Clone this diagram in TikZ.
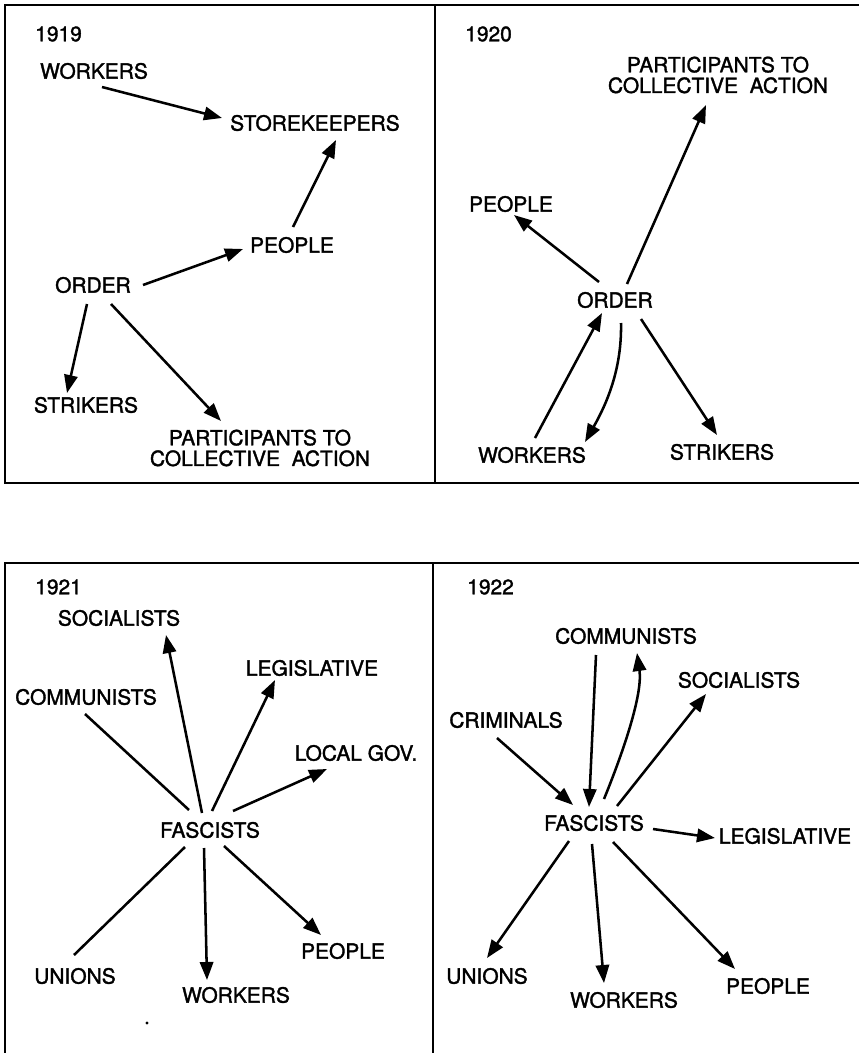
\documentclass[tikz,border=0pt]{standalone}
\usepackage{fontspec}
\setmainfont{TeX Gyre Heros}[FakeBold=1.6]
\usetikzlibrary{calc,arrows.meta}

\tikzset{
	lbl/.style={font=\fontsize{15.7}{15.5}\selectfont, inner sep=0pt, align=center},
	yearlbl/.style={lbl, anchor=west},
	arr/.style={line width=1.9pt, -{Triangle[length=13.5pt,width=10pt]}},
	tie/.style={line width=1.9pt},
	frame/.style={line width=1.5pt}
}

\begin{document}
\begin{tikzpicture}[x=0.75pt, y=-0.75pt]
			%%%%% START %%%%%
			\useasboundingbox (0,0) rectangle (858,1053);
			
			\draw[frame] (862,5) -- (5,5) -- (5,483) -- (862,483);
			\draw[frame] (435,5) -- (435,483);
			\draw[frame] (862,563) -- (5,563) -- (5,1060);
			\draw[frame] (433,563) -- (433,1060);
			
			%%%%% 1919 %%%%%
			\node[yearlbl] (yr19) at (35,34) {1919};
			\node[lbl] (wrk19) at (94,71) {WORKERS};
			\node[lbl] (sto19) at (315,123) {STOREKEEPERS};
			\node[lbl] (ppl19) at (292,245) {PEOPLE};
			\node[lbl] (ord19) at (93,285) {ORDER};
			\node[lbl] (str19) at (86,405) {STRIKERS};
			\node[lbl] (par19) at (260,448) {PARTICIPANTS TO\\COLLECTIVE\ \ ACTION};
			
			\draw[arr] ($(wrk19)+(8,16)$) -- ($(sto19)+(-93,-5)$);
			\draw[arr] ($(ppl19)+(1,-18)$) -- ($(sto19)+(21,17)$);
			\draw[arr] ($(ord19)+(50,0)$) -- ($(ppl19)+(-49,4)$);
			\draw[arr] ($(ord19)+(-6,19)$) -- ($(str19)+(-19,-12)$);
			\draw[arr] ($(ord19)+(18,19)$) -- ($(par19)+(-39,-27)$);
			
			%%%%% 1920 %%%%%
			\node[yearlbl] (yr20) at (465,34) {1920};
			\node[lbl] (par20) at (718,75) {PARTICIPANTS TO\\COLLECTIVE\ \ ACTION};
			\node[lbl] (ppl20) at (511,204) {PEOPLE};
			\node[lbl] (ord20) at (615,300) {ORDER};
			\node[lbl] (wrk20) at (532,455) {WORKERS};
			\node[lbl] (str20) at (722,452) {STRIKERS};
			
			\draw[arr] ($(ord20)+(12,-16)$) -- ($(par20)+(-12,30)$);
			\draw[arr] ($(ord20)+(-16,-18)$) -- ($(ppl20)+(3,11)$);
			\draw[arr] ($(wrk20)+(3,-17)$) -- ($(ord20)+(-13,13)$);
			\draw[arr] ($(ord20)+(6,23)$) .. controls +(1,47) and +(21,-37) .. ($(wrk20)+(53,-13)$);
			\draw[arr] ($(ord20)+(26,19)$) -- ($(str20)+(-5,-17)$);
			
			%%%%% 1921 %%%%%
			\node[yearlbl] (yr21) at (35,587) {1921};
			\node[lbl] (soc21) at (119,618) {SOCIALISTS};
			\node[lbl] (leg21) at (312,668) {LEGISLATIVE};
			\node[lbl] (com21) at (86,697) {COMMUNISTS};
			\node[lbl] (loc21) at (356,753) {LOCAL GOV.};
			\node[lbl] (fas21) at (210,830) {FASCISTS};
			\node[lbl] (ppl21) at (343,951) {PEOPLE};
			\node[lbl] (uni21) at (75,976) {UNIONS};
			\node[lbl] (wrk21) at (236,995) {WORKERS};
			
			\draw[arr] ($(fas21)+(-8,-17)$) -- ($(soc21)+(47,17)$);
			\draw[arr] ($(fas21)+(2,-19)$) -- ($(leg21)+(-37,12)$);
			\draw[tie] ($(com21)+(-1,17)$) -- ($(fas21)+(-21,-20)$);
			\draw[arr] ($(fas21)+(23,-19)$) -- ($(loc21)+(-29,16)$);
			\draw[tie] ($(uni21)+(-1,-21)$) -- ($(fas21)+(-25,17)$);
			\draw[arr] ($(fas21)+(-6,18)$) -- ($(wrk21)+(-29,-15)$);
			\draw[arr] ($(fas21)+(14,16)$) -- ($(ppl21)+(-22,-16)$);
			
			\fill (147,1023) circle (1.6);
			
			%%%%% 1922 %%%%%
			\node[yearlbl] (yr22) at (467,587) {1922};
			\node[lbl] (com22) at (626,636) {COMMUNISTS};
			\node[lbl] (soc22) at (739,680) {SOCIALISTS};
			\node[lbl] (cri22) at (506,720) {CRIMINALS};
			\node[lbl] (fas22) at (594,823) {FASCISTS};
			\node[lbl] (leg22) at (785,836) {LEGISLATIVE};
			\node[lbl] (uni22) at (487,976) {UNIONS};
			\node[lbl] (ppl22) at (768,986) {PEOPLE};
			\node[lbl] (wrk22) at (624,1000) {WORKERS};
			
			\draw[arr] ($(com22)+(-30,19)$) -- ($(fas22)+(-5,-16)$);
			\draw[arr] ($(fas22)+(10,-24)$) .. controls +(18,-44) and +(6,42) .. ($(com22)+(11,17)$);
			\draw[arr] ($(fas22)+(23,-17)$) -- ($(soc22)+(-33,14)$);
			\draw[arr] ($(cri22)+(-9,18)$) -- ($(fas22)+(-21,-18)$);
			\draw[arr] ($(fas22)+(59,6)$) -- ($(leg22)+(-70,2)$);
			\draw[arr] ($(fas22)+(-25,18)$) -- ($(uni22)+(0,-18)$);
			\draw[arr] ($(fas22)+(-2,21)$) -- ($(wrk22)+(-20,-17)$);
			\draw[arr] ($(fas22)+(19,19)$) -- ($(ppl22)+(-33,-17)$);
			
			%%%%% END %%%%%
		\end{tikzpicture}
\end{document}
